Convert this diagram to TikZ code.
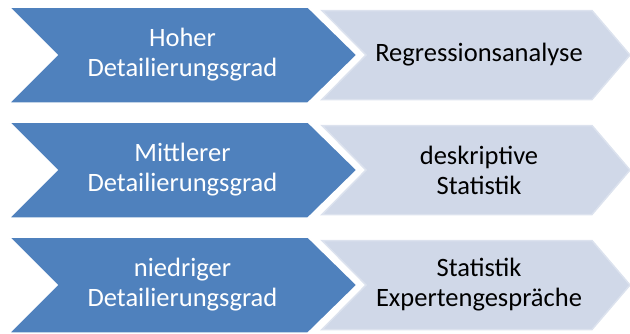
\documentclass[tikz,border=0pt]{standalone}
\usepackage{fontspec}
\setmainfont{Carlito}
\definecolor{chevblue}{HTML}{4F81BD}
\definecolor{chevlight}{HTML}{D0D8E8}
\definecolor{chevedge}{HTML}{DCE2EE}
\begin{document}
\begin{tikzpicture}[x=1pt,y=-1pt,
  levelshape/.style={fill=chevblue, draw=white, line width=1.5pt, line join=miter},
  methodshape/.style={fill=chevlight, draw=chevedge, line width=1.5pt, line join=miter},
  chevtext/.style={font=\fontsize{26.5}{30}\selectfont, align=center, inner sep=0pt},
  leveltext/.style={chevtext, text=white},
  methodtext/.style={chevtext, text=black}]
\useasboundingbox (0,0) rectangle (630,333);
\foreach \m/\lv/\mt [count=\i] in {
    55/{Hoher\\Detailierungsgrad}/{Regressionsanalyse},
    170/{Mittlerer\\Detailierungsgrad}/{deskriptive\\Statistik},
    285/{niedriger\\Detailierungsgrad}/{Statistik\\Expertengespräche}}{
  % detail level chevron
  \draw[levelshape] (9,\m-48) -- (308,\m-48) -- (357,\m) -- (308,\m+48)
    -- (9,\m+48) -- (57,\m) -- cycle;
  % method chevron
  \draw[methodshape] (322,\m-44.5) -- (592,\m-44.5) -- (630,\m) -- (592,\m+44.5)
    -- (322,\m+44.5) -- (366,\m) -- cycle;
  \node[leveltext] (lvl\i) at (182.5,\m) {\lv};
  \node[methodtext] (mth\i) at (479,\m) {\mt};
}
\end{tikzpicture}
\end{document}
